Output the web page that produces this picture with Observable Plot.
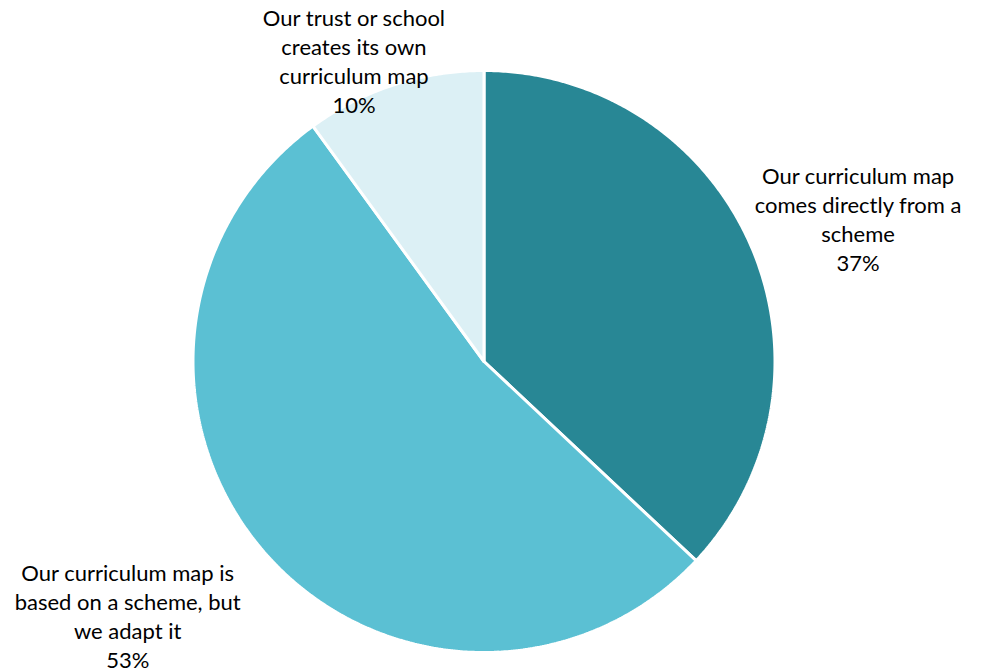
<!DOCTYPE html>
<html>
<head>
<meta charset="utf-8">
<script src="https://cdn.jsdelivr.net/npm/d3@7"></script>
<script src="https://cdn.jsdelivr.net/npm/@observablehq/plot@0.6"></script>
<style>
  html, body { margin: 0; padding: 0; background: #fff; }
  #chart { width: 992px; height: 672px; }
</style>
</head>
<body>
<div id="chart"></div>
<script>
// ---- data ----
const categories = [
  "Our curriculum map comes directly from a scheme",
  "Our curriculum map is based on a scheme, but we adapt it",
  "Our trust or school creates its own curriculum map"
];
const labelText = [
  "Our curriculum map\ncomes directly from a\nscheme",
  "Our curriculum map is\nbased on a scheme, but\nwe adapt it",
  "Our trust or school\ncreates its own\ncurriculum map"
];
const shares = [37, 53, 10];
const colors = ["#288795", "#5BC0D3", "#DCF0F5"];

// ---- layout ----
const W = 992, H = 672;
const cx = 483.5, cy = 361, R = 291;         // pie centre & radius (px)
const labelDist = [1.376, 1.503, 1.127];     // label distance (in radii)
const labelTurn = [2.5, 5.95, -5.36];        // angular nudge (deg)

const pie = d3.pie().sort(null).value(d => d)(shares);

const slicePts = [];
pie.forEach((p, i) => {
  const n = Math.max(8, Math.ceil((p.endAngle - p.startAngle) * 120));
  slicePts.push({cat: categories[i], x: 0, y: 0});
  for (let k = 0; k <= n; k++) {
    const a = p.startAngle + (p.endAngle - p.startAngle) * k / n;
    slicePts.push({cat: categories[i], x: Math.sin(a), y: Math.cos(a)});
  }
  slicePts.push({cat: categories[i], x: 0, y: 0});
});

const labels = pie.map((p, i) => {
  const a = (p.startAngle + p.endAngle) / 2 + labelTurn[i] * Math.PI / 180;
  return {
    x: labelDist[i] * Math.sin(a),
    y: labelDist[i] * Math.cos(a),
    text: labelText[i] + "\n" + shares[i] + "%"
  };
});

const chart = Plot.plot({
  width: W,
  height: H,
  margin: 0,
  x: {domain: [-cx / R, (W - cx) / R], range: [0, W], axis: null},
  y: {domain: [-(H - cy) / R, cy / R], range: [H, 0], axis: null},
  color: {domain: categories, range: colors},
  style: {fontFamily: "Lato, 'Open Sans', sans-serif", background: "#fff"},
  marks: [
    Plot.line(slicePts, {
      x: "x", y: "y", z: "cat", fill: "cat",
      stroke: "#ffffff", strokeWidth: 3, strokeLinejoin: "miter", curve: "linear"
    }),
    Plot.text(labels, {
      x: "x", y: "y", text: "text",
      fontSize: 22, lineHeight: 1.318, fill: "#000", textAnchor: "middle"
    })
  ]
});
document.getElementById("chart").appendChild(chart);
</script>
</body>
</html>
